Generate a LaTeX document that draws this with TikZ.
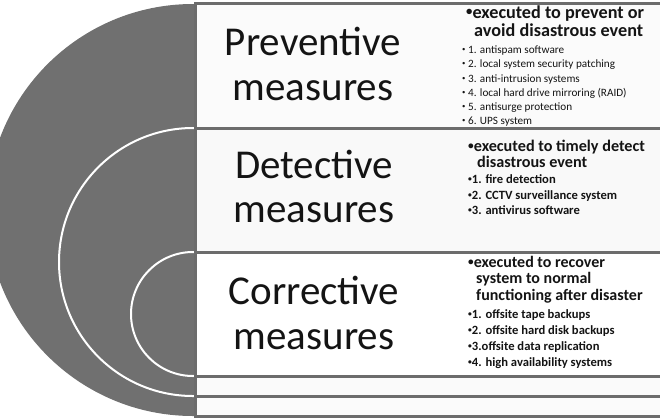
\documentclass[tikz,border=0pt]{standalone}
\usepackage{fontspec}
\usepackage{graphicx}
\setmainfont{Carlito}
\definecolor{diskgray}{RGB}{112,112,112}
\definecolor{linegray}{RGB}{108,108,108}
\definecolor{txt}{RGB}{20,20,20}
\newcommand\bu{\raisebox{.12em}{\scalebox{.7}{•}}}
\newcommand\sbu{\raisebox{.1em}{\scalebox{.6}{•}}}
\begin{document}
\begin{tikzpicture}[x=1pt,y=-1pt,
  box/.style={draw=linegray,line width=3pt},
  big/.style={font=\fontsize{41}{45}\selectfont,anchor=base,inner sep=0pt,text=txt},
  hd/.style={font=\bfseries\fontsize{#1}{#1}\selectfont,anchor=base west,inner sep=0pt,text=txt},
  itr/.style={font=\fontsize{11.2}{12}\selectfont,anchor=base west,inner sep=0pt,text=txt},
  itb/.style={font=\bfseries\fontsize{12.6}{14}\selectfont,anchor=base west,inner sep=0pt,text=txt}]
\useasboundingbox (0,0) rectangle (660,418);
\clip (0,0) rectangle (660,418);
% half disk and arcs
\fill[diskgray] (193,210) circle (206pt);
\draw[white,line width=2pt] (193,262) circle (134pt);
\draw[white,line width=2pt] (193,314) circle (62pt);
% boxes
\draw[box,fill=gray!3] (195,3) rectangle (680,128);
\draw[box,fill=gray!5] (195,128) rectangle (680,252);
\draw[box,fill=white] (195,252) rectangle (680,376);
\draw[box,fill=gray!4] (195,376) rectangle (680,396);
\draw[box,fill=gray!3] (195,396) rectangle (680,416);
% left labels
\node[big] (p1) at (313,55) {Preventive};
\node[big] (p2) at (313,100) {measures};
\node[big] (d1) at (314,178) {Detective};
\node[big] (d2) at (314,222) {measures};
\node[big] (c1) at (314,304) {Corrective};
\node[big] (c2) at (314,349) {measures};
% preventive column
\node[hd=18.2] (ph1) at (466,18) {\bu executed to prevent or};
\node[hd=18.2] (ph2) at (474,36) {avoid disastrous event};
\node[itr] (pi1) at (462,53) {\sbu\ 1. antispam software};
\node[itr] (pi2) at (462,67) {\sbu\ 2. local system security patching};
\node[itr] (pi3) at (462,82) {\sbu\ 3. anti-intrusion systems};
\node[itr] (pi4) at (462,96) {\sbu\ 4. local hard drive mirroring (RAID)};
\node[itr] (pi5) at (462,110) {\sbu\ 5. antisurge protection};
\node[itr] (pi6) at (462,124) {\sbu\ 6. UPS system};
% detective column
\node[hd=16.2] (dh1) at (468,151) {\bu executed to timely detect};
\node[hd=16.2] (dh2) at (477,167) {disastrous event};
\node[itb] (di1) at (468,183) {\sbu 1. fire detection};
\node[itb] (di2) at (468,199) {\sbu 2. CCTV surveillance system};
\node[itb] (di3) at (468,214) {\sbu 3. antivirus software};
% corrective column
\node[hd=16] (ch1) at (468,267) {\bu executed to recover};
\node[hd=16] (ch2) at (476,283) {system to normal};
\node[hd=16] (ch3) at (476,300) {functioning after disaster};
\node[itb] (ci1) at (468,318) {\sbu 1. offsite tape backups};
\node[itb] (ci2) at (468,334) {\sbu 2. offsite hard disk backups};
\node[itb] (ci3) at (468,350) {\sbu 3.offsite data replication};
\node[itb] (ci4) at (468,366) {\sbu 4. high availability systems};
\end{tikzpicture}
\end{document}
